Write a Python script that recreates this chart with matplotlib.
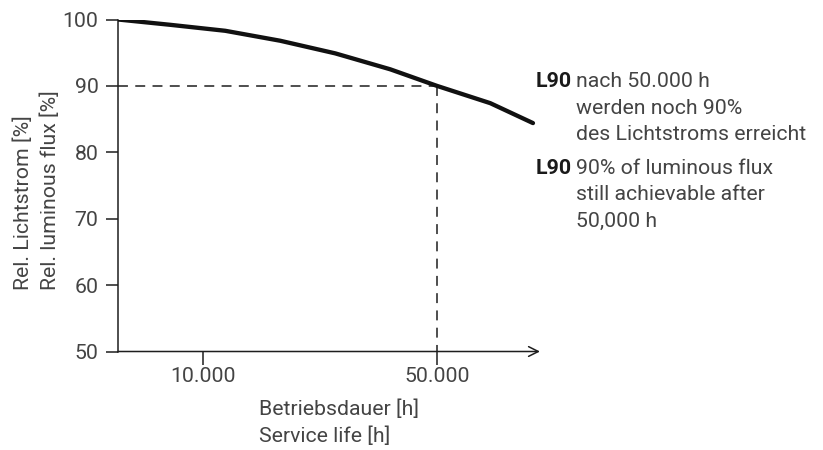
import matplotlib
matplotlib.use("Agg")
import matplotlib.pyplot as plt

# values
hours = [-4530, 4400, 13800, 23200, 32600, 42000, 50000, 59100, 66400]
flux = [100, 99.2, 98.3, 96.8, 94.9, 92.5, 90.0, 87.4, 84.4]

l90_hours = 50000
l90_flux = 90
xticks = [10000, 50000]
xticklabels = ["10.000", "50.000"]
yticks = [50, 60, 70, 80, 90, 100]

plt.rcParams["font.family"] = ["Roboto", "DejaVu Sans"]
txt = "#444444"
ink = "#1e1e1e"
fs = 15.3

fig = plt.figure(figsize=(8.23, 4.5), dpi=100)
ax = fig.add_axes([118 / 823, 98.5 / 450, 422 / 823, 332 / 450])

ax.plot(hours, flux, color="#111111", lw=3.1, solid_capstyle="round",
        solid_joinstyle="round", zorder=3)

# L90 guide lines
ax.plot([hours[0], l90_hours], [l90_flux, l90_flux], color=ink, lw=1.1,
        linestyle=(0, (6.5, 4.8)))
ax.plot([l90_hours, l90_hours], [l90_flux, 50], color=ink, lw=1.1,
        linestyle=(0, (6.5, 4.8)))

ax.set_xlim(-4530, 67600)
ax.set_ylim(50, 100)
ax.set_xticks(xticks)
ax.set_xticklabels(xticklabels)
ax.set_yticks(yticks)

for s in ["top", "right", "bottom"]:
    ax.spines[s].set_visible(False)
ax.spines["left"].set_color(ink)
ax.spines["left"].set_linewidth(1.1)

# x axis with open arrow head
ax.annotate("", xy=(1.0, 0), xytext=(0, 0), xycoords="axes fraction",
            textcoords="axes fraction",
            arrowprops=dict(arrowstyle="->,head_length=0.7,head_width=0.35",
                            color=ink, lw=1.1, shrinkA=0, shrinkB=0))

ax.tick_params(axis="y", direction="out", length=9, width=1.1, color=ink,
               pad=5, labelsize=fs, labelcolor=txt)
ax.tick_params(axis="x", direction="out", length=9, width=1.1, color=ink,
               pad=2, labelsize=fs, labelcolor=txt)

fig.text(37 / 823, 160 / 450, "Rel. Lichtstrom [%]\nRel. luminous flux [%]",
         rotation=90, ha="center", va="bottom", multialignment="left",
         fontsize=fs, color=txt, linespacing=1.5)
fig.text(259 / 823, 1 - 399 / 450, "Betriebsdauer [h]\nService life [h]",
         ha="left", va="top", fontsize=fs, color=txt, linespacing=1.5)

# L90 notes
fig.text(536 / 823, 1 - 72 / 450, "L90", ha="left", va="top",
         fontsize=fs, fontweight="bold", color="#1a1a1a")
fig.text(576 / 823, 1 - 72 / 450,
         "nach 50.000 h\nwerden noch 90%\ndes Lichtstroms erreicht",
         ha="left", va="top", fontsize=fs, color=txt, linespacing=1.5)
fig.text(536 / 823, 1 - 159 / 450, "L90", ha="left", va="top",
         fontsize=fs, fontweight="bold", color="#1a1a1a")
fig.text(576 / 823, 1 - 159 / 450,
         "90% of luminous flux\nstill achievable after\n50,000 h",
         ha="left", va="top", fontsize=fs, color=txt, linespacing=1.5)

fig.savefig("out.png", dpi=100)
